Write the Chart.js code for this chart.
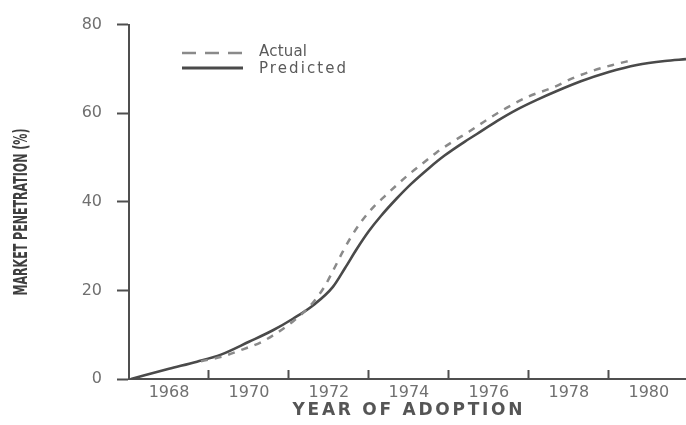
<!DOCTYPE html>
<html>
<head>
<meta charset="utf-8">
<script src="https://cdn.jsdelivr.net/npm/chart.js@4"></script>
<style>
  html, body { margin: 0; padding: 0; background: #fff; }
  #chart { display: block; }
</style>
</head>
<body>
<canvas id="chart" width="686" height="425"></canvas>
<script>
// ─── Data ─────────────────────────────────────────────────────
const actualYears  = [1968.8, 1969.35, 1969.85, 1970.3, 1970.7, 1971.1, 1971.5, 1971.7, 1971.9, 1972.1, 1972.35, 1972.55, 1972.8, 1973.1, 1973.4, 1973.7, 1974.0, 1974.35, 1974.7, 1975.1, 1975.5, 1976.0, 1976.5, 1977.0, 1977.6, 1978.1, 1978.6, 1979.1, 1979.6];
const actualValues = [4.0, 5.1, 6.7, 8.3, 10.4, 13.0, 16.2, 18.4, 21.0, 24.4, 28.8, 32.0, 35.4, 38.7, 41.3, 43.8, 46.2, 48.7, 51.2, 53.6, 55.8, 58.8, 61.5, 63.8, 65.8, 67.9, 69.6, 70.9, 72.0];

const predYears  = [1967.05, 1968, 1968.7, 1969.3, 1970, 1970.6, 1971.1, 1971.6, 1972.1, 1972.4, 1972.7, 1973.0, 1973.3, 1973.7, 1974.05, 1974.5, 1974.9, 1975.4, 1975.7, 1976.2, 1976.7, 1977.2, 1977.7, 1978.3, 1979.0, 1979.7, 1980.4, 1980.93];
const predValues = [0, 2.3, 3.9, 5.5, 8.4, 11.0, 13.6, 16.6, 20.8, 25.0, 29.4, 33.4, 36.8, 40.8, 44.0, 47.6, 50.5, 53.6, 55.3, 58.2, 60.8, 63.0, 65.0, 67.2, 69.3, 70.9, 71.8, 72.2];

const xAllYears    = [1967, 1968, 1969, 1970, 1971, 1972, 1973, 1974, 1975, 1976, 1977, 1978, 1979, 1980];
const xLabelYears  = [1968, 1970, 1972, 1974, 1976, 1978, 1980];
const xMarkedYears = [1969, 1971, 1973, 1975, 1977, 1979];
const yTicks       = [0, 20, 40, 60, 80];

const AXIS = '#4f4f4f';
const TXT  = '#707070';

// fit a string to a target width with letter spacing
function spacedText(ctx, t, x, y, target) {
  ctx.letterSpacing = '0px';
  const tw = ctx.measureText(t).width;
  ctx.letterSpacing = Math.max(0, (target - tw) / (t.length - 1)).toFixed(2) + 'px';
  ctx.fillText(t, x, y);
  ctx.letterSpacing = '0px';
}

// ── Hand-drawn texts: rotated y title, spaced x title, inset legend ──
const textPlugin = {
  id: 'scanText',
  afterDraw(chart) {
    const ctx = chart.ctx;
    const area = chart.chartArea;

    // y title, narrow condensed caps
    ctx.save();
    ctx.fillStyle = '#3e3e3e';
    ctx.font = 'bold 20px "DejaVu Sans Condensed", "DejaVu Sans"';
    const yt = 'MARKET PENETRATION (%)';
    const w = ctx.measureText(yt).width;
    ctx.translate(22, 212);
    ctx.rotate(-Math.PI / 2);
    ctx.scale(167 / w, 1);
    ctx.textAlign = 'center';
    ctx.textBaseline = 'middle';
    ctx.fillText(yt, 0, 0);
    ctx.restore();

    // x title, wide bold caps
    ctx.save();
    ctx.fillStyle = '#555';
    ctx.font = 'bold 17px "DejaVu Sans"';
    ctx.textAlign = 'left';
    ctx.textBaseline = 'middle';
    spacedText(ctx, 'YEAR OF ADOPTION', (area.left + area.right) / 2 - 115, 411, 230);
    ctx.restore();

    // legend
    ctx.save();
    ctx.lineWidth = 2.5;
    ctx.strokeStyle = '#8a8a8a';
    ctx.setLineDash([14, 9]);
    ctx.beginPath(); ctx.moveTo(182, 53); ctx.lineTo(243, 53); ctx.stroke();
    ctx.setLineDash([]);
    ctx.strokeStyle = '#4a4a4a';
    ctx.lineWidth = 3;
    ctx.beginPath(); ctx.moveTo(182, 68); ctx.lineTo(243, 68); ctx.stroke();

    ctx.fillStyle = '#5a5a5a';
    ctx.font = '15px "DejaVu Sans"';
    ctx.textBaseline = 'middle';
    spacedText(ctx, 'Actual', 259, 52, 48);
    spacedText(ctx, 'Predicted', 259, 69, 87);
    ctx.restore();
  },
};

// ── Chart ─────────────────────────────────────────────────────
new Chart(document.getElementById('chart'), {
  type: 'line',
  data: {
    datasets: [
      {
        label: 'Actual',
        data: actualYears.map((x, i) => ({ x, y: actualValues[i] })),
        borderColor: '#8a8a8a',
        borderWidth: 2.5,
        borderDash: [7, 7],
        pointRadius: 0,
        cubicInterpolationMode: 'monotone',
      },
      {
        label: 'Predicted',
        data: predYears.map((x, i) => ({ x, y: predValues[i] })),
        borderColor: '#4a4a4a',
        borderWidth: 2.6,
        pointRadius: 0,
        cubicInterpolationMode: 'monotone',
      },
    ],
  },
  options: {
    responsive: false,
    devicePixelRatio: 1,
    animation: false,
    layout: { padding: { top: 20, right: 0, bottom: 0, left: 0 } },
    plugins: { legend: { display: false }, tooltip: { enabled: false } },
    scales: {
      x: {
        type: 'linear',
        min: 1967,
        max: 1980.93,
        afterBuildTicks: s => { s.ticks = xAllYears.map(v => ({ value: v })); },
        afterFit: s => { s.height = 46; },
        border: { color: AXIS, width: 2 },
        grid: {
          drawOnChartArea: false,
          tickLength: -9,
          tickWidth: 2,
          tickColor: c => xMarkedYears.includes(c.tick && c.tick.value) ? AXIS : 'rgba(0,0,0,0)',
        },
        ticks: {
          autoSkip: false,
          maxRotation: 0,
          padding: 13,
          color: TXT,
          font: { family: '"DejaVu Sans"', size: 16 },
          callback: v => xLabelYears.includes(v) ? String(v) : '',
        },
      },
      y: {
        min: 0,
        max: 80,
        afterBuildTicks: s => { s.ticks = yTicks.map(v => ({ value: v })); },
        afterFit: s => { s.width = 129; },
        border: { color: AXIS, width: 2 },
        grid: {
          drawOnChartArea: false,
          tickLength: 12,
          tickWidth: 2,
          tickColor: AXIS,
        },
        ticks: {
          padding: 15,
          color: TXT,
          font: { family: '"DejaVu Sans"', size: 16 },
        },
      },
    },
  },
  plugins: [textPlugin],
});
</script>
</body>
</html>
